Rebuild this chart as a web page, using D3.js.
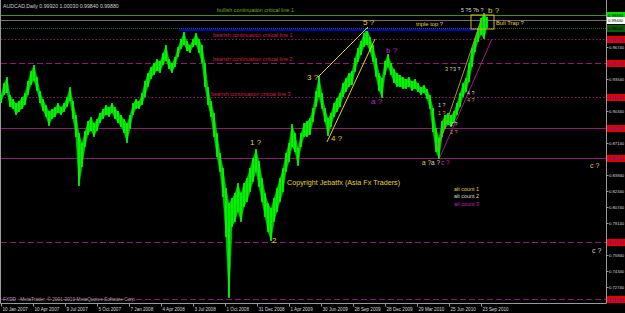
<!DOCTYPE html>
<html>
<head>
<meta charset="utf-8">
<script src="https://cdn.jsdelivr.net/npm/d3@7"></script>
<style>
  html, body { margin: 0; padding: 0; background: #000; }
  svg { display: block; font-family: "Liberation Sans", Arial, sans-serif; }
</style>
</head>
<body>
<script>
// AUDCAD daily, one sample every 6 bars (high / low)
var highs = [0.9184,0.9304,0.9364,0.9184,0.9144,0.9104,0.9124,0.9164,0.9204,0.9324,0.9424,0.9484,0.9364,0.9224,0.9144,0.9084,0.9024,0.9044,0.9064,0.9104,0.9064,0.9104,0.9164,0.9264,0.9124,0.8984,0.8804,0.8704,0.8824,0.8924,0.8964,0.8904,0.8944,0.9004,0.9044,0.9084,0.9064,0.9104,0.9064,0.9024,0.8984,0.8944,0.8904,0.8984,0.9104,0.9144,0.9124,0.9204,0.9324,0.9404,0.9464,0.9504,0.9544,0.9524,0.9604,0.9684,0.9544,0.9504,0.9564,0.9664,0.9744,0.9814,0.9724,0.9684,0.9744,0.9804,0.9744,0.9684,0.9504,0.9264,0.9124,0.9004,0.8804,0.8604,0.8454,0.8254,0.8104,0.8154,0.8204,0.8304,0.8204,0.8304,0.8354,0.8454,0.8554,0.8644,0.8524,0.8354,0.8204,0.8104,0.8054,0.8154,0.8254,0.8354,0.8454,0.8604,0.8704,0.8894,0.8804,0.8654,0.8804,0.8904,0.8924,0.8954,0.9054,0.9224,0.9374,0.9204,0.9054,0.8954,0.9004,0.9104,0.9154,0.9204,0.9304,0.9354,0.9404,0.9424,0.9554,0.9654,0.9724,0.9804,0.9854,0.9764,0.9684,0.9554,0.9404,0.9354,0.9524,0.9594,0.9504,0.9444,0.9404,0.9384,0.9364,0.9344,0.9364,0.9324,0.9344,0.9304,0.9264,0.9284,0.9244,0.9184,0.9054,0.8854,0.8754,0.8924,0.8984,0.9004,0.8984,0.9024,0.9104,0.9204,0.9304,0.9354,0.9504,0.9654,0.9754,0.9854,0.9954,1.0004,0.9964];
var lows = [0.9124,0.9204,0.9224,0.9084,0.9064,0.9004,0.9034,0.9064,0.9104,0.9204,0.9304,0.9344,0.9244,0.9124,0.9044,0.8984,0.8894,0.8964,0.8984,0.9024,0.9004,0.9034,0.9084,0.9144,0.8964,0.8784,0.8294,0.8484,0.8684,0.8804,0.8844,0.8784,0.8844,0.8924,0.8964,0.9004,0.8984,0.9024,0.8964,0.8924,0.8884,0.8824,0.8724,0.8864,0.9004,0.9064,0.9064,0.9104,0.9184,0.9284,0.9364,0.9404,0.9444,0.9424,0.9504,0.9544,0.9464,0.9424,0.9484,0.9584,0.9664,0.9704,0.9644,0.9624,0.9684,0.9704,0.9624,0.9524,0.9284,0.9104,0.8984,0.8784,0.8584,0.8434,0.8184,0.7784,0.7174,0.7884,0.7934,0.8034,0.7934,0.8084,0.8134,0.8234,0.8334,0.8434,0.8284,0.8134,0.7984,0.7834,0.7744,0.7934,0.8034,0.8134,0.8234,0.8434,0.8534,0.8684,0.8634,0.8494,0.8684,0.8784,0.8784,0.8804,0.8934,0.9084,0.9184,0.9064,0.8934,0.8794,0.8884,0.8984,0.9034,0.9084,0.9184,0.9234,0.9284,0.9304,0.9434,0.9534,0.9604,0.9684,0.9704,0.9634,0.9534,0.9384,0.9244,0.9174,0.9404,0.9484,0.9404,0.9324,0.9284,0.9284,0.9264,0.9264,0.9284,0.9244,0.9264,0.9234,0.9204,0.9224,0.9164,0.9064,0.8834,0.8634,0.8564,0.8784,0.8864,0.8904,0.8884,0.8924,0.9004,0.9084,0.9184,0.9234,0.9334,0.9484,0.9634,0.9734,0.9804,0.9764,0.9874];

// time axis labels, one every 64 bars
var dateLabels = ["10 Jan 2007","10 Apr 2007","9 Jul 2007","5 Oct 2007","7 Jan 2008","4 Apr 2008","3 Jul 2008","1 Oct 2008","31 Dec 2008","1 Apr 2009","30 Jun 2009","28 Sep 2009","28 Dec 2009","29 Mar 2010","25 Jun 2010","23 Sep 2010"];
// price axis labels
var priceTicks = [0.98340,0.96740,0.95140,0.93540,0.91940,0.90340,0.88740,0.87140,0.85540,0.83940,0.82340,0.80740,0.79140,0.77540,0.75940,0.74340,0.72740,0.71140];

// horizontal levels drawn by the analyst
var bearLevels = [0.9754, 0.9514, 0.9174, 0.8864, 0.8564, 0.7724, 0.7154];
var bearStyles = ["dot", "dash", "dot", "solid", "solid", "dash", "dash"];
var bullLevel = 0.9994, lastPrice = 0.9944, greenDotLevel = 0.9864, tripleTop = 0.9844;

var W = 625, H = 313, plotRight = 606, plotBottom = 303;
var barsPerSample = 6, barsPerLabel = 64;

var svg = d3.select("body").append("svg").attr("width", W).attr("height", H);
svg.append("rect").attr("width", W).attr("height", H).attr("fill", "#000");

var x = d3.scaleLinear().domain([0, (highs.length - 1) * barsPerSample]).range([1, 487]);
var y = d3.scaleLinear().domain([0.7114, 1.0144]).range([plotBottom, 0]);

var purple = "#8b1c6f", yellow = "#e2d22a", magenta = "#c020c0", white = "#d8d8d8";

// frame
svg.append("path").attr("d", "M0.5,0 V" + (plotBottom + 0.5) + " H" + (plotRight + 0.5) + " V0")
   .attr("fill", "none").attr("stroke", "#9a9a9a").attr("stroke-width", 1);

// levels
var dashes = { dot: "1.5,2", dash: "6,3", solid: null };
bearLevels.forEach(function (v, i) {
  svg.append("line").attr("x1", 1).attr("x2", plotRight)
     .attr("y1", Math.round(y(v)) + 0.5).attr("y2", Math.round(y(v)) + 0.5)
     .attr("stroke", purple).attr("stroke-width", 1)
     .attr("stroke-dasharray", dashes[bearStyles[i]]);
});
svg.append("line").attr("x1", 1).attr("x2", plotRight)
   .attr("y1", Math.round(y(bullLevel)) + 0.5).attr("y2", Math.round(y(bullLevel)) + 0.5)
   .attr("stroke", "#4e8c18");
svg.append("line").attr("x1", 1).attr("x2", plotRight)
   .attr("y1", Math.round(y(lastPrice)) + 0.5).attr("y2", Math.round(y(lastPrice)) + 0.5)
   .attr("stroke", "#707070");
svg.append("line").attr("x1", 1).attr("x2", plotRight)
   .attr("y1", Math.round(y(greenDotLevel)) + 0.5).attr("y2", Math.round(y(greenDotLevel)) + 0.5)
   .attr("stroke", "#2f6a12").attr("stroke-dasharray", "1,1");

// price band: filled envelope plus one bar per sample
var samples = d3.range(highs.length);
var band = d3.area()
    .x(function (i) { return x(i * barsPerSample); })
    .y0(function (i) { return y(lows[i]); })
    .y1(function (i) { return y(highs[i]); });
svg.append("path").datum(samples).attr("d", band)
   .attr("fill", "#00c800").attr("stroke", "#00e000").attr("stroke-width", 0.6);
svg.selectAll(".bar").data(samples).enter().append("line")
   .attr("class", "bar")
   .attr("x1", function (i) { return x(i * barsPerSample); })
   .attr("x2", function (i) { return x(i * barsPerSample); })
   .attr("y1", function (i) { return y(highs[i]) - 1; })
   .attr("y2", function (i) { return y(lows[i]) + 1; })
   .attr("stroke", "#00ff00").attr("stroke-width", 1.6);

// triple top line
svg.append("line").attr("x1", x(356)).attr("x2", x(948))
   .attr("y1", y(tripleTop)).attr("y2", y(tripleTop))
   .attr("stroke", "#0000d0").attr("stroke-width", 2);

// trend lines
var trends = [
  [634, 0.9374, 734, 0.9874, yellow],
  [652, 0.8724, 748, 0.9754, yellow],
  [872, 0.8644, 962, 0.9964, "#a89a22"],
  [878, 0.8574, 982, 0.9754, "#a0207e"]
];
trends.forEach(function (t) {
  svg.append("line").attr("x1", x(t[0])).attr("y1", y(t[1]))
     .attr("x2", x(t[2])).attr("y2", y(t[3]))
     .attr("stroke", t[4]).attr("stroke-width", 1);
});
svg.append("rect").attr("x", x(940)).attr("y", y(0.9994))
   .attr("width", x(986) - x(940)).attr("height", y(0.9854) - y(0.9994))
   .attr("fill", "none").attr("stroke", "#c8b830");

// annotations [bar, price, text, colour, size]
var notes = [
  [432, 1.0024, "bullish continuation critical line 1", "#6cac2c", 5.4],
  [424, 0.9774, "bearish continuation critical line 1", "#cc2244", 5.4],
  [424, 0.9534, "bearish continuation critical line 2", "#cc2244", 5.4],
  [420, 0.9184, "bearish continuation critical line 3", "#cc2244", 5.4],
  [724, 0.9894, "5 ?", yellow, 8],
  [612, 0.9344, "3 ?", yellow, 8],
  [660, 0.8734, "4 ?", yellow, 8],
  [498, 0.8694, "1 ?", yellow, 8],
  [542, 0.7714, "2", yellow, 8],
  [740, 0.9104, "a ?", magenta, 8],
  [770, 0.9614, "b ?", magenta, 8],
  [842, 0.8494, "a ?", yellow, 6.5],
  [860, 0.8494, "a ?", white, 6.5],
  [880, 0.8494, "c ?", magenta, 6.5],
  [572, 0.8294, "Copyright Jebatfx (Asia Fx Traders)", yellow, 7.2],
  [906, 0.8234, "alt count 1", yellow, 5.4],
  [906, 0.8164, "alt count 2", white, 5.4],
  [906, 0.8084, "alt count 3", magenta, 5.4],
  [830, 0.9884, "triple top ?", yellow, 5.8],
  [990, 0.9894, "Bull Trap ?", yellow, 5.8],
  [920, 1.0024, "5 ?5 ?b ?", white, 5.4],
  [974, 1.0014, "b ?", yellow, 8],
  [888, 0.9434, "3 ?", yellow, 5.4],
  [904, 0.9434, "3 ?", white, 5.4],
  [932, 0.9194, "4 ?", white, 5.4],
  [932, 0.9124, "4 ?", "#c8a050", 5.4],
  [874, 0.9074, "1 ?", white, 5.4],
  [874, 0.8994, "1 ?", "#c8a050", 5.4],
  [898, 0.8884, "2 ?", white, 5.4],
  [898, 0.8804, "2 ?", "#c8a050", 5.4],
  [1178, 0.8464, "c ?", yellow, 7],
  [1182, 0.7614, "c ?", white, 7]
];
svg.selectAll(".note").data(notes).enter().append("text")
   .attr("x", function (d) { return x(d[0]); })
   .attr("y", function (d) { return y(d[1]); })
   .attr("fill", function (d) { return d[3]; })
   .attr("font-size", function (d) { return d[4] + "px"; })
   .text(function (d) { return d[2]; });

// header / footer
svg.append("text").attr("x", 3).attr("y", 8).attr("fill", "#d0d0d0").attr("font-size", "5.2px")
   .text("AUDCAD,Daily  0.99920  1.00030  0.99840  0.99880");
svg.append("text").attr("x", 3).attr("y", 301).attr("fill", "#a0a0a0").attr("font-size", "4.8px")
   .text("FXDD - MetaTrader, \u00a9 2001-2010 MetaQuotes Software Corp.");

// time axis
var xt = svg.append("g").attr("transform", "translate(0," + (plotBottom + 0.5) + ")");
dateLabels.forEach(function (lab, i) {
  var px = Math.round(x(i * barsPerLabel)) + 0.5;
  xt.append("line").attr("x1", px).attr("x2", px).attr("y1", 0).attr("y2", 3).attr("stroke", "#9a9a9a");
  xt.append("text").attr("x", px + 1).attr("y", 7.5).attr("fill", "#d8d8d8")
    .attr("font-size", "4.6px").text(lab);
});

// level price tags (they hide the axis labels underneath, as in the terminal)
var tags = bearLevels.map(function (v) { return [v, "#e00000", "#3030c0"]; })
  .concat([[bullLevel, "#00e000", "#000"], [lastPrice, "#ffffff", "#000"], [greenDotLevel, "#0c5a0c", "#000"]]);

var shownTicks = priceTicks.filter(function (v) {
  return tags.every(function (t) { return Math.abs(y(v) - y(t[0])) > 6; });
});

// price axis
var yAxis = d3.axisRight(y).tickValues(shownTicks).tickSize(2).tickFormat(d3.format(".5f"));
var ya = svg.append("g").attr("transform", "translate(" + (plotRight + 0.5) + ",0)").call(yAxis);
ya.select(".domain").remove();
ya.selectAll("line").attr("stroke", "#9a9a9a");
ya.selectAll("text").attr("fill", "#d8d8d8").attr("font-size", "4.2px").attr("x", 2.5)
  .attr("font-family", "Liberation Sans, Arial, sans-serif");

tags.forEach(function (t) {
  var py = Math.round(y(t[0]));
  svg.append("rect").attr("x", plotRight + 1).attr("y", py - 3).attr("width", W - plotRight).attr("height", 7)
     .attr("fill", t[1]);
  svg.append("text").attr("x", plotRight + 2).attr("y", py + 2).attr("fill", t[2])
     .attr("font-size", "4.2px").text(d3.format(".5f")(t[0]));
});
</script>
</body>
</html>
